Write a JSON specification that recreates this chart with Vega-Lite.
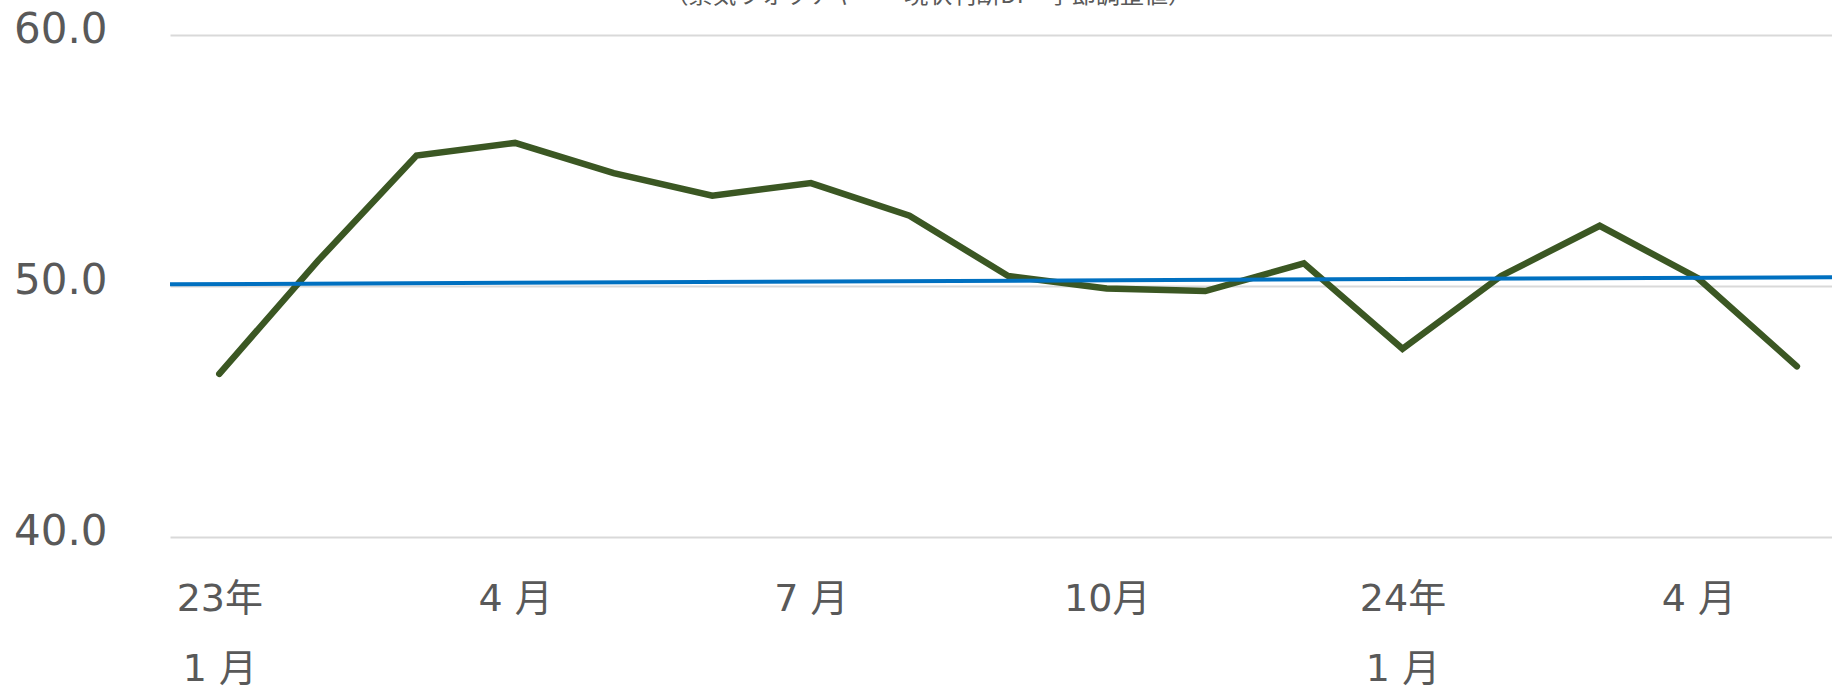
{
  "$schema": "https://vega.github.io/schema/vega-lite/v6.json",
  "width": 1662,
  "height": 502,
  "autosize": {"type": "none"},
  "padding": {"left": 170, "top": 35, "right": 0, "bottom": 154},
  "background": "white",
  "config": {
    "view": {"stroke": null},
    "axis": {"labelFont": "DejaVu Sans, Noto Sans CJK JP", "labelColor": "#595959"}
  },
  "datasets": {
    "di": [
      {"month": "2023-01", "idx": 0, "value": 46.5},
      {"month": "2023-02", "idx": 1, "value": 51.0},
      {"month": "2023-03", "idx": 2, "value": 55.2},
      {"month": "2023-04", "idx": 3, "value": 55.7},
      {"month": "2023-05", "idx": 4, "value": 54.5},
      {"month": "2023-06", "idx": 5, "value": 53.6},
      {"month": "2023-07", "idx": 6, "value": 54.1},
      {"month": "2023-08", "idx": 7, "value": 52.8},
      {"month": "2023-09", "idx": 8, "value": 50.4},
      {"month": "2023-10", "idx": 9, "value": 49.9},
      {"month": "2023-11", "idx": 10, "value": 49.8},
      {"month": "2023-12", "idx": 11, "value": 50.9},
      {"month": "2024-01", "idx": 12, "value": 47.5},
      {"month": "2024-02", "idx": 13, "value": 50.4},
      {"month": "2024-03", "idx": 14, "value": 52.4},
      {"month": "2024-04", "idx": 15, "value": 50.3},
      {"month": "2024-05", "idx": 16, "value": 46.8}
    ],
    "ref": [
      {"idx": -0.5, "value": 50.07},
      {"idx": 16.356, "value": 50.35}
    ],
    "note": [
      {"idx": 7.19, "value": 61.28, "label": "（景気ウォッチャー・現状判断DI　季節調整値）"}
    ]
  },
  "encoding": {
    "x": {
      "field": "idx",
      "type": "quantitative",
      "scale": {"domain": [-0.5, 16.356], "nice": false, "zero": false},
      "axis": {
        "title": null,
        "values": [0, 3, 6, 9, 12, 15],
        "labelExpr": "datum.value == 0 ? ['23年', '1 月'] : datum.value == 12 ? ['24年', '1 月'] : (datum.value == 3 || datum.value == 15) ? '4 月' : datum.value == 6 ? '7 月' : '10月'",
        "grid": false,
        "domain": false,
        "ticks": false,
        "labelFontSize": 38,
        "labelBaseline": "top",
        "labelPadding": 43,
        "labelLineHeight": 70,
        "labelFlush": false,
        "labelOverlap": false
      }
    },
    "y": {
      "field": "value",
      "type": "quantitative",
      "scale": {"domain": [40, 60], "nice": false, "zero": false},
      "axis": {
        "title": null,
        "values": [40, 50, 60],
        "format": ".1f",
        "grid": true,
        "gridColor": "#d9d9d9",
        "gridWidth": 2,
        "domain": false,
        "ticks": false,
        "labelFontSize": 42,
        "labelPadding": 63,
        "labelOffset": -6,
        "labelFlush": false,
        "labelOverlap": false
      }
    }
  },
  "layer": [
    {
      "data": {"name": "di"},
      "mark": {"type": "line", "color": "#3B5723", "strokeWidth": 6.5, "strokeCap": "round", "strokeJoin": "miter", "clip": true}
    },
    {
      "data": {"name": "ref"},
      "mark": {"type": "line", "color": "#0070C0", "strokeWidth": 4, "clip": true}
    },
    {
      "data": {"name": "note"},
      "mark": {"type": "text", "clip": false, "align": "center", "baseline": "alphabetic", "fontSize": 24, "font": "Noto Sans CJK JP", "color": "#595959"},
      "encoding": {"text": {"field": "label"}}
    }
  ]
}
